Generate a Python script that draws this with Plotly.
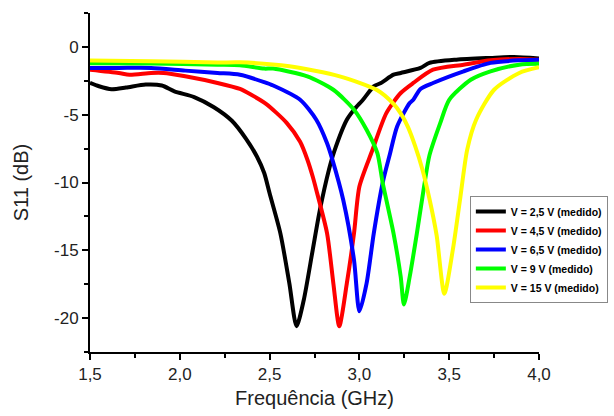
import plotly.graph_objects as go

# ---- data ----
names = ["V = 2,5 V (medido)", "V = 4,5 V (medido)", "V = 6,5 V (medido)",
         "V = 9 V (medido)", "V = 15 V (medido)"]
colors = ["#000000", "#ff0000", "#0000ff", "#00ff00", "#ffff00"]

x_black = [1.50, 1.55, 1.62, 1.70, 1.81, 1.90, 1.97, 2.08, 2.19, 2.29, 2.37, 2.43, 2.47,
           2.50, 2.56, 2.61, 2.65, 2.69, 2.74, 2.78, 2.83, 2.86, 2.93, 2.97, 3.02, 3.08,
           3.12, 3.19, 3.23, 3.34, 3.39, 3.54, 3.73, 3.86, 4.00]
y_black = [-2.65, -2.90, -3.12, -3.00, -2.78, -2.85, -3.28, -3.70, -4.45, -5.45, -6.80, -8.10, -9.30,
           -10.80, -13.75, -17.44, -20.60, -18.68, -14.98, -12.02, -9.07, -7.70, -5.37, -4.63, -3.90, -2.91,
           -2.66, -2.05, -1.92, -1.55, -1.18, -0.94, -0.81, -0.74, -0.85]

x_red = [1.50, 1.66, 1.72, 1.84, 1.91, 2.03, 2.21, 2.335, 2.40, 2.48, 2.595, 2.67, 2.71, 2.74,
         2.76, 2.82, 2.855, 2.888, 2.93, 2.97, 3.00, 3.07, 3.15, 3.23, 3.30, 3.41, 3.58, 3.73,
         3.89, 4.00]
y_red = [-1.68, -1.92, -2.05, -1.92, -1.92, -2.17, -2.66, -3.10, -3.55, -4.20, -5.60, -7.00, -8.30, -9.56,
         -10.55, -13.75, -17.44, -20.60, -17.44, -13.75, -10.30, -7.70, -4.88, -3.40, -2.66, -1.68, -1.31, -0.99,
         -0.89, -0.95]

x_blue = [1.50, 1.66, 1.84, 2.03, 2.21, 2.335, 2.47, 2.52, 2.67, 2.76, 2.82, 2.85, 2.91, 2.97,
          3.00, 3.04, 3.08, 3.13, 3.17, 3.21, 3.28, 3.30, 3.34, 3.41, 3.58, 3.73, 3.89, 4.00]
y_blue = [-1.55, -1.55, -1.55, -1.75, -1.92, -2.05, -2.60, -2.85, -3.90, -5.37, -7.10, -8.33, -11.29, -15.72,
          -19.50, -17.44, -13.75, -10.00, -7.90, -5.87, -4.14, -3.90, -3.10, -2.66, -1.80, -1.18, -0.99, -0.95]

x_green = [1.50, 1.84, 2.21, 2.335, 2.47, 2.52, 2.71, 2.855, 2.97, 3.04, 3.10, 3.13, 3.19, 3.23,
           3.248, 3.28, 3.32, 3.36, 3.39, 3.45, 3.50, 3.62, 3.73, 3.89, 4.00]
y_green = [-1.20, -1.23, -1.31, -1.35, -1.60, -1.60, -2.17, -3.16, -4.63, -6.11, -7.84, -10.05, -13.75, -16.95,
           -19.00, -16.95, -13.75, -10.30, -8.00, -5.62, -3.90, -2.42, -1.80, -1.31, -1.25]

x_yellow = [1.50, 1.84, 2.21, 2.335, 2.61, 2.89, 3.10, 3.19, 3.23, 3.27, 3.31, 3.35, 3.39, 3.43,
            3.473, 3.52, 3.56, 3.60, 3.65, 3.75, 3.89, 4.00]
y_yellow = [-1.00, -1.05, -1.15, -1.14, -1.43, -2.17, -3.20, -4.20, -4.90, -5.90, -7.30, -9.00, -11.20, -13.90,
            -18.20, -14.98, -11.29, -7.59, -5.37, -3.16, -1.92, -1.50]

xs = [x_black, x_red, x_blue, x_green, x_yellow]
ys = [y_black, y_red, y_blue, y_green, y_yellow]

x_ticks = [1.5, 2.0, 2.5, 3.0, 3.5, 4.0]
y_ticks = [0, -5, -10, -15, -20]
y_ticktext = ["0", "-5", "-10", "-15", "-20"]

font_family = "Arial, Liberation Sans, sans-serif"

fig = go.Figure()
for x, y, n, c in zip(xs, ys, names, colors):
    fig.add_trace(go.Scatter(x=x, y=y, name=n, mode="lines",
                             line=dict(color=c, width=4, shape="spline", smoothing=0.7)))

fig.update_layout(
    width=614, height=416,
    margin=dict(l=90, r=75, t=13, b=64, autoexpand=False),
    paper_bgcolor="white", plot_bgcolor="white",
    separators=",.",
    font=dict(family=font_family, color="#222222", size=17),
    showlegend=True,
    legend=dict(x=0.846, y=0.46, xanchor="left", yanchor="top",
                bgcolor="white", bordercolor="#888888", borderwidth=1,
                font=dict(family=font_family, size=10.5, color="#000000", weight="bold"),
                tracegroupgap=0, itemwidth=30),
)
fig.update_xaxes(
    range=[1.5, 4.0], tickvals=x_ticks, tickformat=".1f",
    showline=True, linecolor="black", linewidth=2, mirror=False,
    ticks="outside", ticklen=6, tickwidth=2, tickcolor="black",
    showgrid=False, zeroline=False,
    tickfont=dict(size=17, color="#222222"),
    minor=dict(ticks="outside", dtick=0.25, tick0=1.5, ticklen=4, tickwidth=2, tickcolor="black", showgrid=False),
    title=dict(text="Frequência (GHz)", font=dict(size=20, color="#222222"), standoff=8),
)
fig.update_yaxes(
    range=[-22.5, 2.5], tickvals=y_ticks, ticktext=y_ticktext,
    showline=True, linecolor="black", linewidth=2, mirror=False,
    ticks="outside", ticklen=6, tickwidth=2, tickcolor="black",
    showgrid=False, zeroline=False,
    tickfont=dict(size=17, color="#222222"),
    minor=dict(ticks="outside", dtick=2.5, tick0=0, ticklen=4, tickwidth=2, tickcolor="black", showgrid=False),
    title=dict(text="S11 (dB)", font=dict(size=20, color="#222222"), standoff=20),
)

fig.write_html("out.html", config={"displayModeBar": False},
               post_script="document.body.style.margin='0';document.body.style.padding='0';")
